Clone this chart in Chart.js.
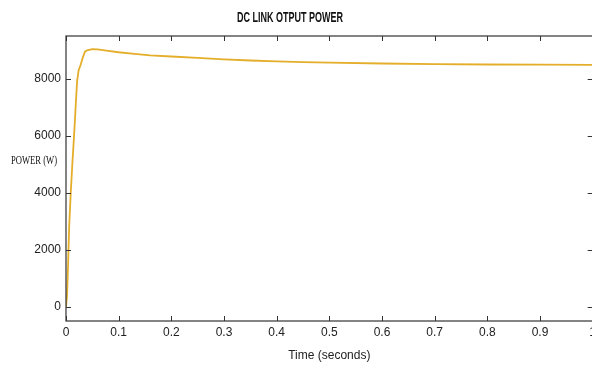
<!DOCTYPE html>
<html>
<head>
<meta charset="utf-8">
<script src="https://cdn.jsdelivr.net/npm/chart.js@4"></script>
<style>
  html, body { margin: 0; padding: 0; background: #fff; overflow: hidden; }
</style>
</head>
<body>
<canvas id="myChart" width="600" height="371"></canvas>
<script>
// time in seconds, power in watts
const timeS = [0, 0.002, 0.004, 0.006, 0.009, 0.012, 0.015, 0.018, 0.021, 0.024, 0.028, 0.032, 0.036, 0.04, 0.05, 0.06, 0.08, 0.1, 0.13, 0.16, 0.2, 0.25, 0.3, 0.35, 0.4, 0.45, 0.5, 0.6, 0.7, 0.8, 0.9, 1.0];
const powerW = [0, 400, 1500, 2800, 4000, 5000, 5900, 6900, 7900, 8300, 8500, 8750, 8950, 9000, 9040, 9030, 8980, 8930, 8870, 8820, 8780, 8730, 8680, 8640, 8610, 8585, 8565, 8535, 8515, 8500, 8495, 8490];
const xTicks = [0, 0.1, 0.2, 0.3, 0.4, 0.5, 0.6, 0.7, 0.8, 0.9, 1];
const yTicks = [0, 2000, 4000, 6000, 8000];

const sans = '"Liberation Sans", Arial, sans-serif';

// draw text squeezed to a given width (the original uses a narrow face)
function narrowText(ctx, txt, x, y, w, align) {
  const m = ctx.measureText(txt).width;
  const k = Math.min(1, w / m);
  ctx.save();
  ctx.translate(x, y);
  ctx.scale(k, 1);
  ctx.textAlign = align;
  ctx.fillText(txt, 0, 0);
  ctx.restore();
}

const boxPlugin = {
  id: 'box',
  afterDraw(chart) {
    const ctx = chart.ctx;
    const a = chart.chartArea;
    const xs = chart.scales.x, ys = chart.scales.y;
    ctx.save();
    ctx.strokeStyle = '#333';
    ctx.lineWidth = 1.2;
    ctx.strokeRect(a.left, a.top, a.right - a.left, a.bottom - a.top);
    // inward tick marks
    ctx.lineWidth = 1;
    xTicks.forEach(v => {
      const px = Math.round(xs.getPixelForValue(v)) + 0.5;
      ctx.beginPath();
      ctx.moveTo(px, a.bottom); ctx.lineTo(px, a.bottom - 5);
      ctx.moveTo(px, a.top); ctx.lineTo(px, a.top + 5);
      ctx.stroke();
    });
    yTicks.forEach(v => {
      const py = Math.round(ys.getPixelForValue(v)) + 0.5;
      ctx.beginPath();
      ctx.moveTo(a.left, py); ctx.lineTo(a.left + 5, py);
      ctx.moveTo(a.right, py); ctx.lineTo(a.right - 5, py);
      ctx.stroke();
    });
    ctx.fillStyle = '#111';
    ctx.textBaseline = 'middle';
    ctx.font = 'bold 15px ' + sans;
    narrowText(ctx, 'DC LINK OTPUT POWER', 290, 18, 106, 'center');
    ctx.font = '13px "Liberation Serif", "DejaVu Serif", serif';
    narrowText(ctx, 'POWER (W)', 11, 161, 46, 'left');
    ctx.restore();
  }
};

const config = {
  type: 'line',
  data: {
    datasets: [{
      data: timeS.map((t, i) => ({ x: t, y: powerW[i] })),
      borderColor: 'rgb(228, 174, 42)',
      borderWidth: 1.8,
      pointRadius: 0,
      tension: 0,
      fill: false
    }]
  },
  options: {
    responsive: false,
    animation: false,
    layout: { padding: { top: 36, left: 0, right: 6, bottom: 8 } },
    plugins: { legend: { display: false }, title: { display: false }, tooltip: { enabled: false } },
    scales: {
      x: {
        type: 'linear',
        min: 0, max: 1,
        afterBuildTicks: s => { s.ticks = xTicks.map(v => ({ value: v })); },
        afterFit: s => { s.height = 42; },
        grid: { display: false, drawTicks: false },
        border: { display: false },
        ticks: {
          padding: 4,
          color: '#222',
          font: { family: sans, size: 12 },
          maxRotation: 0,
          callback: v => String(v)
        },
        title: {
          display: true,
          text: 'Time (seconds)',
          color: '#222',
          font: { family: sans, size: 12 },
          padding: { top: 0, bottom: 0 }
        }
      },
      y: {
        min: -500, max: 9500,
        afterBuildTicks: s => { s.ticks = yTicks.map(v => ({ value: v })); },
        afterFit: s => { s.width = 66; },
        grid: { display: false, drawTicks: false },
        border: { display: false },
        ticks: {
          padding: 5,
          color: '#222',
          font: { family: sans, size: 12 },
          callback: v => String(v)
        }
      }
    }
  },
  plugins: [boxPlugin]
};

const myChart = new Chart(document.getElementById('myChart'), config);
</script>
</body>
</html>
